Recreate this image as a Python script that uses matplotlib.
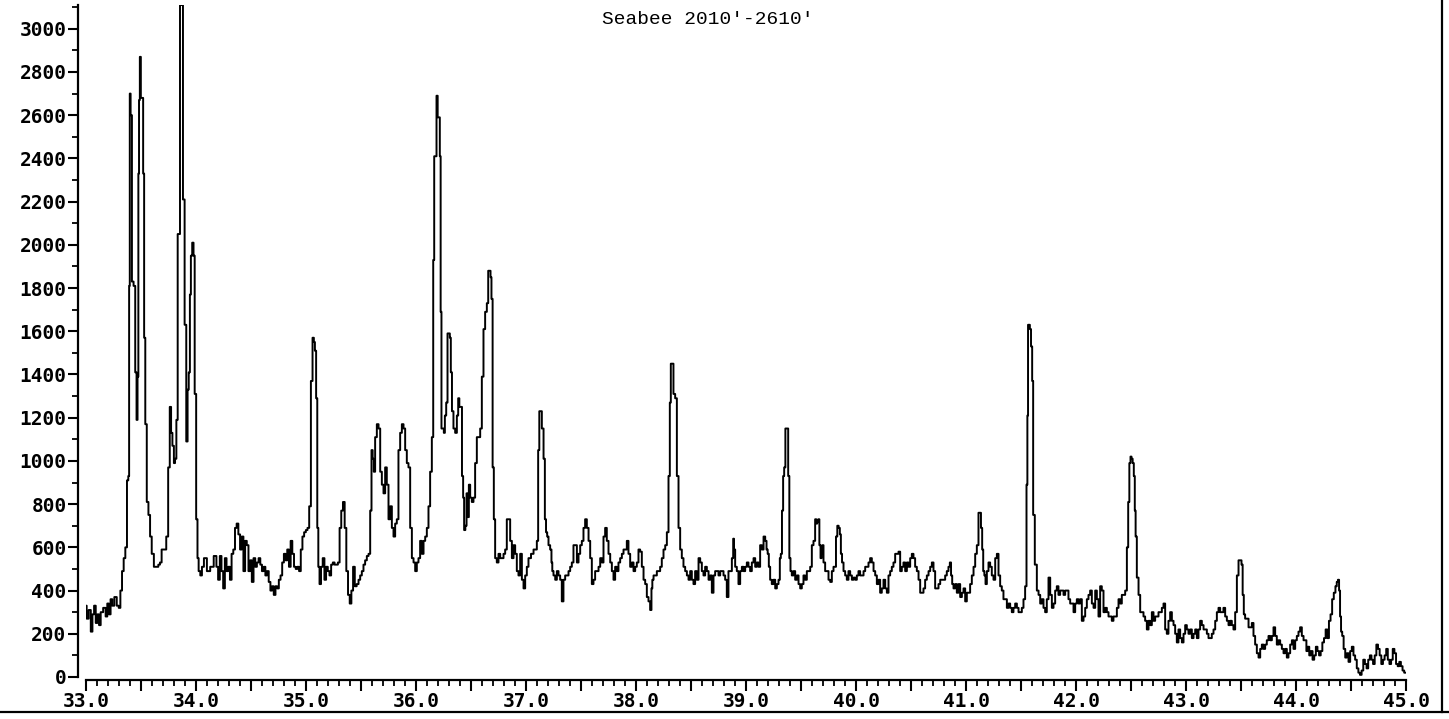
import matplotlib
matplotlib.use("Agg")
import matplotlib.pyplot as plt
from matplotlib.ticker import MultipleLocator, FuncFormatter

# scan pieces: (2-theta, counts)
scan_33 = [
    (33.000, 330), (33.012, 270), (33.036, 310), (33.051, 210), (33.066, 290), (33.081, 330),
    (33.096, 250), (33.111, 290), (33.126, 240), (33.141, 300), (33.171, 320), (33.186, 280),
    (33.201, 340), (33.216, 290), (33.231, 360), (33.246, 330), (33.269, 370), (33.290, 330),
    (33.305, 320), (33.320, 400), (33.335, 490), (33.350, 550), (33.365, 600), (33.380, 910),
    (33.389, 930), (33.395, 1810), (33.401, 2700), (33.410, 2600), (33.425, 1830), (33.440, 1810),
    (33.455, 1410), (33.464, 1190), (33.473, 1390), (33.479, 2330), (33.485, 2670), (33.494, 2870),
    (33.503, 2680), (33.515, 2680), (33.524, 2330), (33.533, 1570), (33.545, 1170), (33.560, 810),
    (33.575, 750), (33.590, 650), (33.605, 570), (33.629, 510), (33.650, 510), (33.665, 520),
    (33.680, 530), (33.695, 590), (33.719, 590), (33.740, 650), (33.754, 970), (33.769, 1250),
    (33.778, 1130), (33.793, 1070), (33.805, 990), (33.814, 1010), (33.829, 1190), (33.838, 2050),
    (33.850, 2050), (33.859, 3110), (33.874, 3110), (33.889, 2210), (33.904, 1630), (33.919, 1090),
    (33.928, 1330), (33.940, 1410), (33.949, 1770), (33.958, 1950), (33.973, 2010), (33.982, 1950),
    (33.994, 1310), (34.009, 730), (34.018, 550), (34.030, 490), (34.048, 470), (34.060, 510),
    (34.084, 550), (34.114, 490), (34.144, 510),
]

scan_34 = [
    (34.178, 560), (34.193, 510), (34.209, 450), (34.224, 560), (34.239, 490), (34.255, 410),
    (34.270, 550), (34.285, 490), (34.301, 510), (34.316, 450), (34.331, 570), (34.347, 590),
    (34.362, 690), (34.377, 710), (34.393, 660), (34.408, 590), (34.423, 650), (34.439, 490),
    (34.454, 630), (34.469, 610), (34.485, 490), (34.500, 540), (34.515, 440), (34.531, 550),
    (34.546, 510), (34.561, 530), (34.577, 550), (34.592, 520), (34.607, 490), (34.623, 510),
    (34.638, 470), (34.653, 490), (34.669, 440), (34.684, 400), (34.699, 420), (34.715, 380),
    (34.730, 420), (34.745, 410), (34.761, 450), (34.776, 470), (34.791, 530), (34.807, 570),
    (34.822, 540), (34.837, 590), (34.853, 510), (34.868, 630), (34.883, 570), (34.899, 510),
    (34.914, 500), (34.929, 510), (34.945, 490), (34.960, 590), (34.975, 650), (34.991, 670),
    (35.006, 680), (35.021, 690), (35.037, 790), (35.052, 1370), (35.067, 1570), (35.076, 1550),
    (35.086, 1510), (35.098, 1290), (35.107, 690), (35.117, 510), (35.129, 430), (35.144, 510),
    (35.160, 550), (35.175, 450), (35.190, 510), (35.206, 490), (35.221, 470), (35.236, 520),
    (35.252, 530), (35.267, 520), (35.282, 520), (35.298, 530), (35.313, 690), (35.328, 770),
    (35.344, 810), (35.359, 690), (35.374, 490), (35.390, 380), (35.405, 340), (35.420, 400),
    (35.436, 510), (35.451, 420),
]

scan_35 = [
    (35.470, 430), (35.485, 450), (35.500, 470), (35.515, 490), (35.530, 520), (35.545, 540),
    (35.561, 560), (35.576, 570), (35.591, 770), (35.600, 1050), (35.612, 1010), (35.621, 950),
    (35.636, 1110), (35.652, 1170), (35.667, 1150), (35.682, 950), (35.697, 890), (35.712, 850),
    (35.727, 970), (35.742, 890), (35.758, 730), (35.773, 790), (35.788, 690), (35.803, 650),
    (35.818, 710), (35.833, 730), (35.848, 1050), (35.864, 1130), (35.879, 1170), (35.894, 1150),
    (35.909, 1050), (35.924, 990), (35.939, 970), (35.955, 690), (35.970, 550), (35.985, 530),
    (36.000, 490), (36.015, 530), (36.030, 550), (36.045, 630), (36.061, 570), (36.076, 630),
    (36.091, 650), (36.106, 690), (36.121, 790), (36.136, 950), (36.152, 1110), (36.161, 1930),
    (36.170, 2410), (36.182, 2410), (36.191, 2690), (36.203, 2590), (36.212, 2590), (36.221, 2410),
    (36.227, 1690), (36.236, 1150), (36.248, 1150), (36.258, 1130), (36.267, 1210), (36.282, 1270),
    (36.291, 1590), (36.303, 1590), (36.312, 1570), (36.321, 1410), (36.333, 1230), (36.348, 1150),
    (36.364, 1130), (36.379, 1210), (36.388, 1290), (36.400, 1250), (36.412, 1250), (36.424, 930),
    (36.433, 830), (36.442, 680), (36.455, 700), (36.464, 850), (36.476, 740), (36.485, 890),
    (36.500, 830), (36.515, 810), (36.530, 830), (36.545, 990), (36.561, 1110), (36.576, 1110),
    (36.591, 1150), (36.606, 1390), (36.621, 1610), (36.636, 1690), (36.652, 1730), (36.661, 1880),
    (36.673, 1880), (36.682, 1850), (36.690, 1750),
]

scan_36 = [
    (36.703, 970), (36.712, 730), (36.727, 550), (36.742, 530), (36.758, 570), (36.773, 550),
    (36.788, 550), (36.803, 570), (36.818, 590), (36.833, 730), (36.848, 730), (36.864, 630),
    (36.879, 550), (36.894, 610), (36.909, 570), (36.924, 490), (36.939, 470), (36.955, 570),
    (36.970, 450), (36.985, 410), (37.000, 470), (37.015, 510), (37.030, 550), (37.061, 570),
    (37.076, 590), (37.091, 590), (37.106, 630), (37.115, 1050), (37.127, 1230), (37.136, 1230),
    (37.152, 1150), (37.167, 1010), (37.176, 730), (37.188, 670), (37.197, 650), (37.212, 610),
    (37.227, 590), (37.236, 530), (37.242, 490), (37.258, 470), (37.273, 450), (37.288, 490),
    (37.303, 470), (37.318, 450), (37.333, 350), (37.348, 450), (37.364, 470), (37.379, 470),
    (37.394, 490), (37.409, 510), (37.424, 530), (37.439, 610), (37.455, 610), (37.470, 530),
    (37.485, 570), (37.500, 610), (37.515, 630), (37.530, 690), (37.545, 730), (37.561, 690),
    (37.576, 630), (37.591, 550), (37.606, 430), (37.621, 450), (37.636, 490), (37.652, 490),
    (37.667, 510), (37.682, 550), (37.697, 530), (37.712, 650), (37.727, 690), (37.742, 630),
    (37.758, 570), (37.773, 530), (37.788, 490), (37.803, 450), (37.818, 510), (37.833, 490),
    (37.848, 530), (37.864, 550), (37.879, 570), (37.894, 590), (37.909, 590),
]

scan_37 = [
    (37.924, 630), (37.939, 570), (37.955, 510), (37.970, 530), (37.985, 490), (38.000, 510),
    (38.015, 530), (38.030, 590), (38.045, 580), (38.061, 510), (38.076, 450), (38.091, 430),
    (38.106, 370), (38.121, 350), (38.136, 310), (38.145, 410), (38.152, 450), (38.167, 470),
    (38.182, 470), (38.197, 490), (38.212, 490), (38.227, 510), (38.242, 550), (38.258, 590),
    (38.273, 610), (38.288, 670), (38.303, 930), (38.312, 1270), (38.321, 1450), (38.333, 1450),
    (38.348, 1310), (38.364, 1290), (38.379, 930), (38.394, 690), (38.409, 590), (38.424, 550),
    (38.439, 510), (38.455, 490), (38.470, 470), (38.485, 450), (38.500, 490), (38.515, 450),
    (38.530, 430), (38.545, 490), (38.561, 450), (38.576, 550), (38.591, 530), (38.606, 490),
    (38.621, 470), (38.636, 510), (38.652, 490), (38.667, 450), (38.682, 470), (38.697, 390),
    (38.712, 470), (38.727, 490), (38.742, 490), (38.758, 470), (38.773, 490), (38.788, 490),
    (38.803, 470), (38.818, 450), (38.833, 370), (38.848, 490), (38.864, 490), (38.879, 550),
    (38.888, 640), (38.894, 590), (38.909, 510), (38.924, 490), (38.939, 430), (38.955, 490),
    (38.970, 510), (38.985, 490), (39.000, 510), (39.015, 530), (39.030, 510), (39.045, 490),
    (39.061, 530), (39.076, 550), (39.091, 510), (39.106, 530), (39.121, 510), (39.136, 610),
    (39.152, 590),
]

scan_39 = [
    (39.167, 650), (39.182, 630), (39.191, 590), (39.203, 570), (39.212, 510), (39.227, 450),
    (39.242, 430), (39.258, 450), (39.273, 410), (39.288, 430), (39.303, 450), (39.312, 550),
    (39.321, 570), (39.333, 770), (39.342, 930), (39.352, 970), (39.364, 1150), (39.370, 1150),
    (39.379, 1150), (39.388, 930), (39.400, 550), (39.409, 490), (39.424, 470), (39.439, 490),
    (39.455, 450), (39.470, 470), (39.485, 430), (39.500, 410), (39.515, 430), (39.530, 470),
    (39.545, 450), (39.561, 490), (39.576, 490), (39.591, 510), (39.606, 610), (39.621, 630),
    (39.636, 730), (39.642, 710), (39.652, 720), (39.661, 730), (39.673, 610), (39.682, 550),
    (39.691, 570), (39.697, 610), (39.712, 530), (39.727, 490), (39.742, 490), (39.758, 450),
    (39.773, 440), (39.788, 490), (39.803, 510), (39.812, 510), (39.824, 650), (39.836, 700),
    (39.848, 690), (39.858, 660), (39.867, 570), (39.879, 530), (39.894, 490), (39.909, 470),
    (39.924, 450), (39.939, 490), (39.955, 470), (39.970, 450), (39.985, 460), (40.000, 450),
    (40.015, 470), (40.030, 490), (40.045, 470), (40.061, 470), (40.076, 490), (40.091, 510),
    (40.106, 510), (40.121, 530), (40.136, 550), (40.152, 530), (40.167, 490), (40.182, 470),
    (40.197, 430), (40.212, 450), (40.227, 390), (40.242, 410), (40.258, 450), (40.273, 410),
    (40.288, 390), (40.303, 470), (40.318, 490), (40.333, 510), (40.348, 530), (40.364, 570),
    (40.379, 570), (40.394, 580),
]

scan_40 = [
    (40.409, 490), (40.424, 510), (40.439, 530), (40.455, 490), (40.470, 530), (40.485, 510),
    (40.500, 550), (40.515, 570), (40.530, 550), (40.545, 510), (40.561, 490), (40.576, 450),
    (40.591, 390), (40.606, 390), (40.621, 410), (40.636, 450), (40.652, 470), (40.667, 490),
    (40.682, 510), (40.697, 530), (40.712, 490), (40.727, 410), (40.742, 410), (40.758, 430),
    (40.773, 450), (40.788, 450), (40.803, 450), (40.818, 470), (40.833, 490), (40.848, 510),
    (40.858, 530), (40.870, 470), (40.879, 430), (40.894, 410), (40.909, 430), (40.924, 390),
    (40.939, 430), (40.955, 370), (40.970, 390), (40.985, 410), (41.000, 350), (41.015, 390),
    (41.030, 390), (41.045, 430), (41.061, 470), (41.076, 510), (41.091, 570), (41.106, 610),
    (41.121, 760), (41.130, 760), (41.142, 690), (41.152, 590), (41.161, 490), (41.173, 470),
    (41.182, 430), (41.197, 490), (41.212, 530), (41.227, 510), (41.242, 470), (41.258, 450),
    (41.273, 550), (41.288, 570), (41.303, 470), (41.318, 420), (41.333, 400), (41.348, 360),
    (41.364, 360), (41.379, 320), (41.394, 340), (41.409, 320), (41.424, 300), (41.439, 320),
    (41.455, 340), (41.470, 320), (41.485, 300), (41.500, 300), (41.515, 320), (41.530, 360),
    (41.545, 420), (41.555, 890), (41.561, 1210), (41.567, 1630), (41.576, 1630), (41.585, 1610),
    (41.597, 1530), (41.606, 1370), (41.615, 750),
]

scan_41 = [
    (41.636, 520), (41.652, 400), (41.667, 380), (41.682, 340), (41.697, 360), (41.712, 320),
    (41.727, 300), (41.742, 360), (41.758, 460), (41.773, 380), (41.788, 320), (41.803, 340),
    (41.818, 400), (41.833, 420), (41.848, 380), (41.864, 400), (41.879, 400), (41.894, 380),
    (41.909, 400), (41.924, 400), (41.939, 360), (41.955, 340), (41.970, 340), (41.985, 300),
    (42.000, 340), (42.015, 360), (42.030, 340), (42.045, 360), (42.061, 260), (42.076, 280),
    (42.091, 320), (42.106, 360), (42.121, 380), (42.136, 400), (42.152, 340), (42.167, 320),
    (42.182, 400), (42.197, 360), (42.212, 280), (42.227, 420), (42.242, 400), (42.258, 300),
    (42.273, 320), (42.288, 300), (42.303, 280), (42.318, 280), (42.333, 260), (42.348, 280),
    (42.364, 280), (42.379, 320), (42.394, 360), (42.409, 340), (42.424, 380), (42.439, 380),
    (42.455, 400), (42.470, 600), (42.479, 810), (42.491, 990), (42.500, 1020), (42.509, 1010),
    (42.521, 990), (42.530, 930), (42.539, 770), (42.545, 650), (42.561, 460), (42.576, 380),
    (42.591, 300), (42.606, 300), (42.621, 280), (42.636, 260), (42.652, 220), (42.667, 260),
    (42.682, 240), (42.697, 300), (42.712, 260), (42.727, 280), (42.742, 280), (42.758, 300),
    (42.773, 300), (42.788, 320), (42.803, 340), (42.818, 220), (42.833, 200), (42.848, 260),
]

scan_42 = [
    (42.864, 300), (42.879, 260), (42.894, 240), (42.909, 200), (42.924, 160), (42.939, 220),
    (42.955, 180), (42.970, 160), (42.985, 200), (43.000, 240), (43.015, 220), (43.030, 200),
    (43.045, 220), (43.061, 180), (43.076, 200), (43.091, 220), (43.106, 180), (43.121, 220),
    (43.136, 260), (43.152, 240), (43.167, 220), (43.182, 220), (43.197, 200), (43.212, 180),
    (43.227, 180), (43.242, 200), (43.258, 220), (43.273, 260), (43.288, 300), (43.303, 320),
    (43.318, 300), (43.333, 300), (43.348, 320), (43.364, 280), (43.379, 260), (43.394, 240),
    (43.409, 260), (43.424, 240), (43.439, 220), (43.455, 300), (43.470, 470), (43.485, 540),
    (43.500, 540), (43.509, 520), (43.521, 380), (43.530, 290), (43.545, 270), (43.561, 270),
    (43.576, 230), (43.591, 230), (43.606, 250), (43.621, 190), (43.636, 150), (43.652, 110),
    (43.667, 90), (43.682, 130), (43.697, 150), (43.712, 130), (43.727, 150), (43.742, 170),
    (43.758, 190), (43.773, 170), (43.788, 190), (43.803, 230), (43.818, 190), (43.833, 150),
    (43.848, 170), (43.864, 150), (43.879, 130), (43.894, 110), (43.909, 130), (43.924, 90),
    (43.939, 110), (43.955, 150), (43.970, 170), (43.985, 130), (44.000, 170), (44.015, 190),
    (44.030, 210), (44.045, 230), (44.061, 190), (44.076, 170), (44.091, 170),
]

scan_44 = [
    (44.098, 120), (44.113, 140), (44.128, 100), (44.143, 120), (44.158, 80), (44.173, 100),
    (44.188, 140), (44.202, 120), (44.217, 100), (44.232, 120), (44.247, 160), (44.262, 180),
    (44.277, 220), (44.292, 180), (44.307, 260), (44.321, 290), (44.336, 360), (44.351, 390),
    (44.366, 420), (44.375, 440), (44.387, 450), (44.396, 400), (44.405, 280), (44.414, 210),
    (44.426, 190), (44.440, 130), (44.455, 90), (44.470, 110), (44.485, 70), (44.500, 120),
    (44.515, 140), (44.530, 100), (44.545, 80), (44.560, 40), (44.574, 20), (44.589, 10),
    (44.604, 30), (44.619, 80), (44.634, 60), (44.649, 40), (44.664, 80), (44.679, 100),
    (44.693, 80), (44.708, 60), (44.723, 100), (44.738, 150), (44.753, 130), (44.768, 100),
    (44.783, 60), (44.798, 80), (44.813, 100), (44.827, 130), (44.842, 80), (44.857, 60),
    (44.872, 80), (44.887, 130), (44.902, 110), (44.917, 60), (44.932, 50), (44.946, 70),
    (44.961, 50), (44.976, 30), (44.991, 20), (45.000, 20),
]

pieces = [scan_33, scan_34, scan_35, scan_36, scan_37, scan_39, scan_40, scan_41, scan_42, scan_44]
two_theta = [p[0] for seg in pieces for p in seg]
counts = [p[1] for seg in pieces for p in seg]

title = "Seabee 2010'-2610'"

W, H = 1449, 719
fig = plt.figure(figsize=(W / 100, H / 100), dpi=100)
fig.patch.set_facecolor("white")

# plot box in pixels: x 86..1406, y 5..677
ax = fig.add_axes([86 / W, (H - 677) / H, 1320 / W, 672 / H])
ax.plot(two_theta, counts, color="black", lw=1.4, drawstyle="steps-mid")

ax.set_xlim(33.0, 45.0)
ax.set_ylim(0, 3110)

for s in ("top", "right"):
    ax.spines[s].set_visible(False)
ax.spines["left"].set_position(("outward", 6))
ax.spines["bottom"].set_position(("outward", 2))
ax.spines["left"].set_linewidth(1.6)
ax.spines["bottom"].set_linewidth(1.6)

ax.xaxis.set_major_locator(MultipleLocator(0.5))
ax.xaxis.set_minor_locator(MultipleLocator(0.1))
ax.xaxis.set_major_formatter(FuncFormatter(lambda v, _: f"{v:.1f}" if abs(v - round(v)) < 1e-6 else ""))
ax.yaxis.set_major_locator(MultipleLocator(200))
ax.yaxis.set_minor_locator(MultipleLocator(100))

tick_font = dict(family="DejaVu Sans Mono", size=14, weight="bold")
ax.tick_params(axis="x", which="major", direction="out", length=8, width=1.5, pad=1)
ax.tick_params(axis="x", which="minor", direction="out", length=4, width=1.3)
ax.tick_params(axis="y", which="major", direction="out", length=7, width=1.5, pad=1)
ax.tick_params(axis="y", which="minor", direction="out", length=4, width=1.3)
for lab in ax.get_xticklabels() + ax.get_yticklabels():
    lab.set_fontfamily(tick_font["family"])
    lab.set_fontsize(tick_font["size"])
    lab.set_fontweight(tick_font["weight"])

fig.text(708 / W, 1 - 19 / H, title, ha="center", va="center",
         family="Liberation Mono", fontsize=14)

# page frame lines
fig.add_artist(plt.Line2D([1442 / W, 1442 / W], [1 - 712 / H, 1.0], transform=fig.transFigure,
                          color="black", lw=1.6))
fig.add_artist(plt.Line2D([0, 1], [1 - 712 / H, 1 - 712 / H], transform=fig.transFigure,
                          color="black", lw=1.6))

fig.savefig("out.png", dpi=100, facecolor="white")
